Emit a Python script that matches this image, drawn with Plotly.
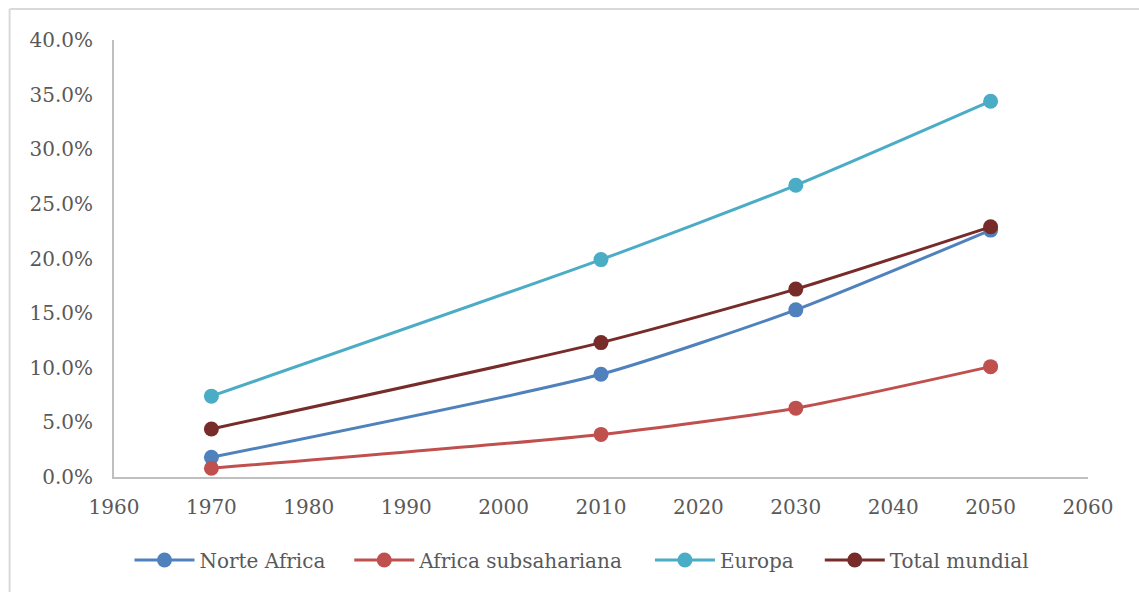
import plotly.graph_objects as go

years = [1970, 2010, 2030, 2050]
norte_africa = [0.018, 0.094, 0.153, 0.226]
africa_subsahariana = [0.008, 0.039, 0.063, 0.101]
europa = [0.074, 0.199, 0.267, 0.344]
total_mundial = [0.044, 0.123, 0.172, 0.229]

series = [
    ("Norte Africa", norte_africa, "#4F81BD"),
    ("Africa subsahariana", africa_subsahariana, "#C0504D"),
    ("Europa", europa, "#4BACC6"),
    ("Total mundial", total_mundial, "#772C2A"),
]

W, H = 1139, 592
L, R, T, B = 113.5, 50.5, 40, 115
pw, ph = W - L - R, H - T - B

font = dict(family="DejaVu Serif", size=20, color="#595959")

# left pixel position of each legend entry (layout only)
legend_px = [129, 349, 650, 820]
legend_names = ["legend", "legend2", "legend3", "legend4"]

fig = go.Figure()
for (name, vals, col), lg in zip(series, legend_names):
    fig.add_trace(go.Scatter(
        x=years, y=vals, name=name, mode="lines+markers", legend=lg,
        line=dict(color=col, width=3, shape="spline", smoothing=0.6),
        marker=dict(color=col, size=15),
    ))

legend_common = dict(orientation="h", xanchor="left", y=-(560 - 477) / ph,
                     yanchor="middle", font=font, itemwidth=60,
                     bgcolor="rgba(0,0,0,0)")
layout_legends = {}
for lg, px in zip(legend_names, legend_px):
    layout_legends[lg] = dict(x=(px - L) / pw, **legend_common)

fig.update_layout(
    width=W, height=H,
    margin=dict(l=L, r=R, t=T, b=B, autoexpand=False),
    paper_bgcolor="white", plot_bgcolor="white",
    font=font,
    showlegend=True,
    xaxis=dict(range=[1960, 2060], tickvals=list(range(1960, 2061, 10)),
               showgrid=False, zeroline=False, showline=True, linecolor="#BFBFBF",
               linewidth=2, ticks="", tickfont=font, ticklabelstandoff=11),
    yaxis=dict(range=[0, 0.4], tickvals=[i * 0.05 for i in range(9)],
               tickformat=".1%", showgrid=False, zeroline=False, showline=True,
               linecolor="#BFBFBF", linewidth=2, ticks="", tickfont=font,
               ticklabelstandoff=15),
    **layout_legends,
)

# outer chart frame (left and top edges visible)
lx = (9 - L) / pw
ty = 1 + (T - 9) / ph
fig.add_shape(type="line", xref="paper", yref="paper", x0=lx, x1=lx, y0=-0.5, y1=ty,
              line=dict(color="#D9D9D9", width=2))
fig.add_shape(type="line", xref="paper", yref="paper", x0=lx, x1=1.2, y0=ty, y1=ty,
              line=dict(color="#D9D9D9", width=2))

fig.write_html("out.html")
